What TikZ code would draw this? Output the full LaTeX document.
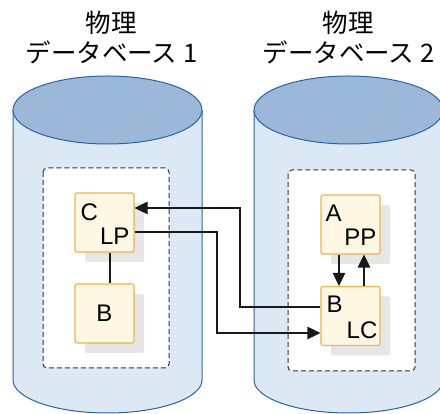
\documentclass[tikz,border=0pt]{standalone}
\usepackage{fontspec}
\setmainfont{Liberation Sans}
\newfontfamily\jpfont{Noto Sans CJK JP}
\usetikzlibrary{arrows.meta,shadows,calc}
\definecolor{cylside}{HTML}{DCE9F5}
\definecolor{cyltop}{HTML}{9BB8D8}
\definecolor{cylline}{HTML}{2A62B0}
\definecolor{boxfill}{HTML}{FDF7E4}
\definecolor{boxline}{HTML}{F2B347}
\definecolor{shadowgray}{HTML}{E6E6E8}
\definecolor{dashline}{HTML}{333333}
\tikzset{
  seg/.style={minimum size=59pt,inner sep=0pt,draw=boxline,fill=boxfill,line width=1.2pt,rounded corners=2pt,
    drop shadow={shadow xshift=10pt,shadow yshift=-10pt,fill=shadowgray,opacity=1}},
  mainlbl/.style={anchor=north west,inner sep=0pt,font=\fontsize{24}{24}\selectfont},
  sublbl/.style={anchor=base east,inner sep=0pt,font=\fontsize{24}{24}\selectfont},
  dbtitle/.style={align=center,font=\jpfont\fontsize{25.5}{30}\selectfont},
  dbarea/.style={draw=dashline,fill=white,dash pattern=on 5pt off 3pt,line width=1pt,rounded corners=4pt},
  link/.style={draw=black!90,line width=1.2pt},
  arr/.style={-{Triangle[length=13pt,width=12.5pt]}}
}
\begin{document}
\begin{tikzpicture}[x=1pt,y=1pt]
\useasboundingbox (0,0) rectangle (440,414);
% databases
\foreach \cx in {107.5,348.5}{
  \filldraw[fill=cylside,draw=cylline,line width=1pt] (\cx-94.5,304) -- (\cx-94.5,34)
    arc[start angle=180,end angle=360,x radius=94.5pt,y radius=33pt] -- (\cx+94.5,304);
  \filldraw[fill=cyltop,draw=cylline,line width=1pt] (\cx,304) ellipse[x radius=94.5pt,y radius=34pt];
}
\node[dbtitle] (t1) at (111.5,376) {物理\\データベース 1};
\node[dbtitle] (t2) at (348.5,376) {物理\\データベース 2};
\draw[dbarea] (43,246) rectangle (169,46);
\draw[dbarea] (288,244) rectangle (415,43);
% segments
\node[seg] (c) at (104.5,191.5) {};
\node[seg] (b1) at (104.5,100.5) {};
\node[seg] (a) at (350.5,189.5) {};
\node[seg] (b2) at (350.5,98) {};
\node[mainlbl] (cM) at ($(c.north west)+(6,-11)$) {C};
\node[sublbl] (cS) at ($(c.south east)+(-5,8)$) {LP};
\node[font=\fontsize{24}{24}\selectfont] (b1M) at (b1) {B};
\node[mainlbl] (aM) at ($(a.north west)+(5,-10)$) {A};
\node[sublbl] (aS) at ($(a.south east)+(-4,9)$) {PP};
\node[mainlbl] (b2M) at ($(b2.north west)+(6,-10)$) {B};
\node[sublbl] (b2S) at ($(b2.south east)+(-3,8)$) {LC};
% links
\draw[link] ($(c.south)+(5.5,0)$) -- ($(b1.north)+(5.5,0)$);
\draw[link,arr] ($(b2.west)+(0,9)$) -| (240,206) -- ($(c.east)+(0,14.5)$);
\draw[link,arr] ($(c.east)+(0,-9.5)$) -| (217,81) -- ($(b2.west)+(0,-17)$);
\draw[link,arr] ($(a.south)+(-11.5,0)$) -- ($(b2.north)+(-11.5,0)$);
\draw[link,arr] ($(b2.north)+(13.5,0)$) -- ($(a.south)+(13.5,0)$);
\end{tikzpicture}
\end{document}
